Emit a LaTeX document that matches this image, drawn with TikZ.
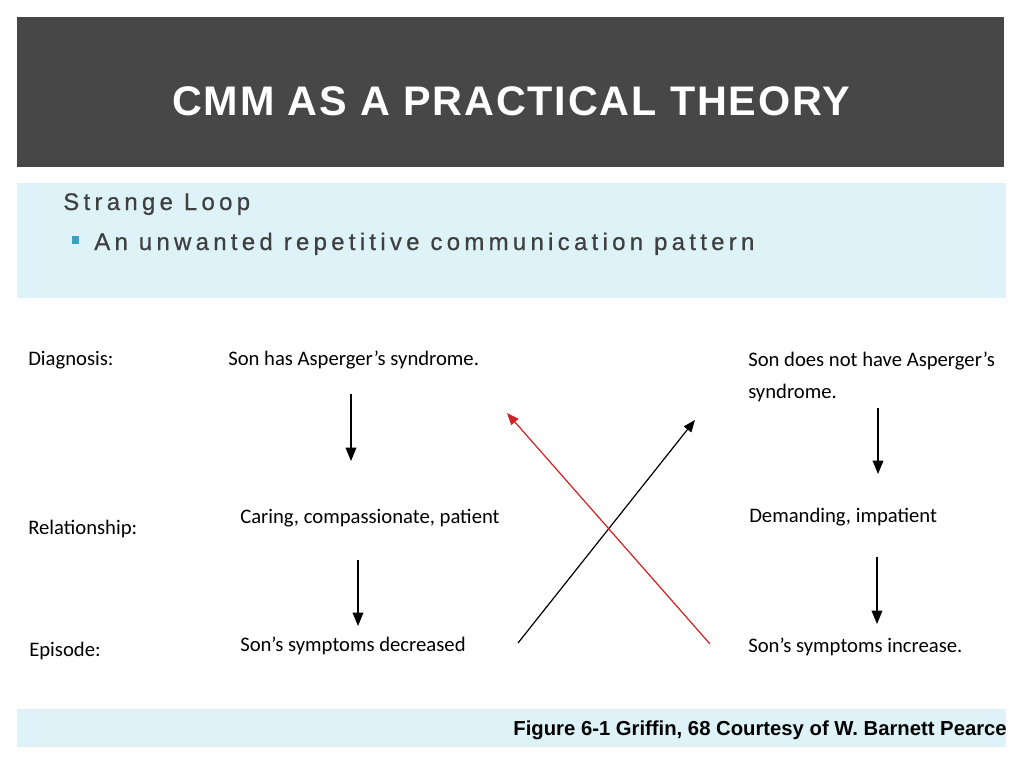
\documentclass[tikz,border=0pt]{standalone}
\usepackage{fontspec}
\setmainfont{Carlito}
\newfontfamily\headfont[LetterSpace=4.4]{Liberation Sans Bold}
\newfontfamily\subfont[LetterSpace=17.8,FakeBold=0.6]{Liberation Sans}
\newfontfamily\capfont{Liberation Sans Bold}
\usetikzlibrary{arrows.meta}
\definecolor{titlebg}{HTML}{474747}
\definecolor{lightbg}{HTML}{DDF3F8}
\definecolor{bulletc}{HTML}{3A9FC0}
\definecolor{subtxt}{HTML}{3F3F3F}
\definecolor{redarrow}{HTML}{D42020}
\tikzset{
  lbl/.style={anchor=west, inner sep=0pt, font=\fontsize{15.5}{18}\selectfont},
  flow/.style={-{Triangle[length=10pt,width=8pt]}, line width=1pt, black},
  cross/.style={-{Triangle[length=9pt,width=7pt]}, line width=0.9pt},
}
\begin{document}
\begin{tikzpicture}[x=0.75pt,y=-0.75pt]
\useasboundingbox (0,0) rectangle (1024,768);
\fill[white] (0,0) rectangle (1024,768);
% title band
\fill[titlebg] (17,17) rectangle (1004,167);
\node[text=white, inner sep=0pt, font=\headfont\fontsize{31}{36}\selectfont] (title) at (511,101) {CMM AS A PRACTICAL THEORY};
% subtitle band
\fill[lightbg] (17,183) rectangle (1006,298);
\node[anchor=base west, inner sep=0pt, text=subtxt, font=\subfont\fontsize{18}{22}\selectfont] (strange) at (63,210) {Strange Loop};
\fill[bulletc] (72,236) rectangle (79,244);
\node[anchor=base west, inner sep=0pt, text=subtxt, font=\subfont\fontsize{18}{22}\selectfont] (unwanted) at (94,250) {An unwanted repetitive communication pattern};
% caption band
\fill[lightbg] (17,709) rectangle (1006,747);
\node[anchor=base east, inner sep=0pt, font=\capfont\fontsize{15.2}{18}\selectfont] (caption) at (1007,735) {Figure 6-1 Griffin, 68 Courtesy of W. Barnett Pearce};
% row labels
\node[lbl] (diag) at (28,360) {Diagnosis:};
\node[lbl] (rel) at (28,529) {Relationship:};
\node[lbl] (epi) at (29,651) {Episode:};
% left column
\node[lbl] (l1) at (228,360) {Son has Asperger’s syndrome.};
\node[lbl] (l2) at (240,518) {Caring, compassionate, patient};
\node[lbl] (l3) at (240,646) {Son’s symptoms decreased};
% right column
\node[lbl, align=left, font=\fontsize{15.5}{24}\selectfont] (r1) at (748,377) {Son does not have Asperger’s\\syndrome.};
\node[lbl] (r2) at (749,517) {Demanding, impatient};
\node[lbl] (r3) at (748,647) {Son’s symptoms increase.};
% vertical arrows
\coordinate (a1s) at (351,394); \coordinate (a1e) at (351,461);
\coordinate (a2s) at (358,560); \coordinate (a2e) at (358,626);
\coordinate (a3s) at (878,408); \coordinate (a3e) at (878,474);
\coordinate (a4s) at (877,557); \coordinate (a4e) at (877,624);
\draw[flow] (a1s) -- (a1e);
\draw[flow] (a2s) -- (a2e);
\draw[flow] (a3s) -- (a3e);
\draw[flow] (a4s) -- (a4e);
% crossing arrows
\coordinate (bs) at (518,643); \coordinate (be) at (695,420);
\coordinate (rs) at (710,644); \coordinate (re) at (507,413);
\draw[cross, black] (bs) -- (be);
\draw[cross, redarrow] (rs) -- (re);
\end{tikzpicture}
\end{document}
